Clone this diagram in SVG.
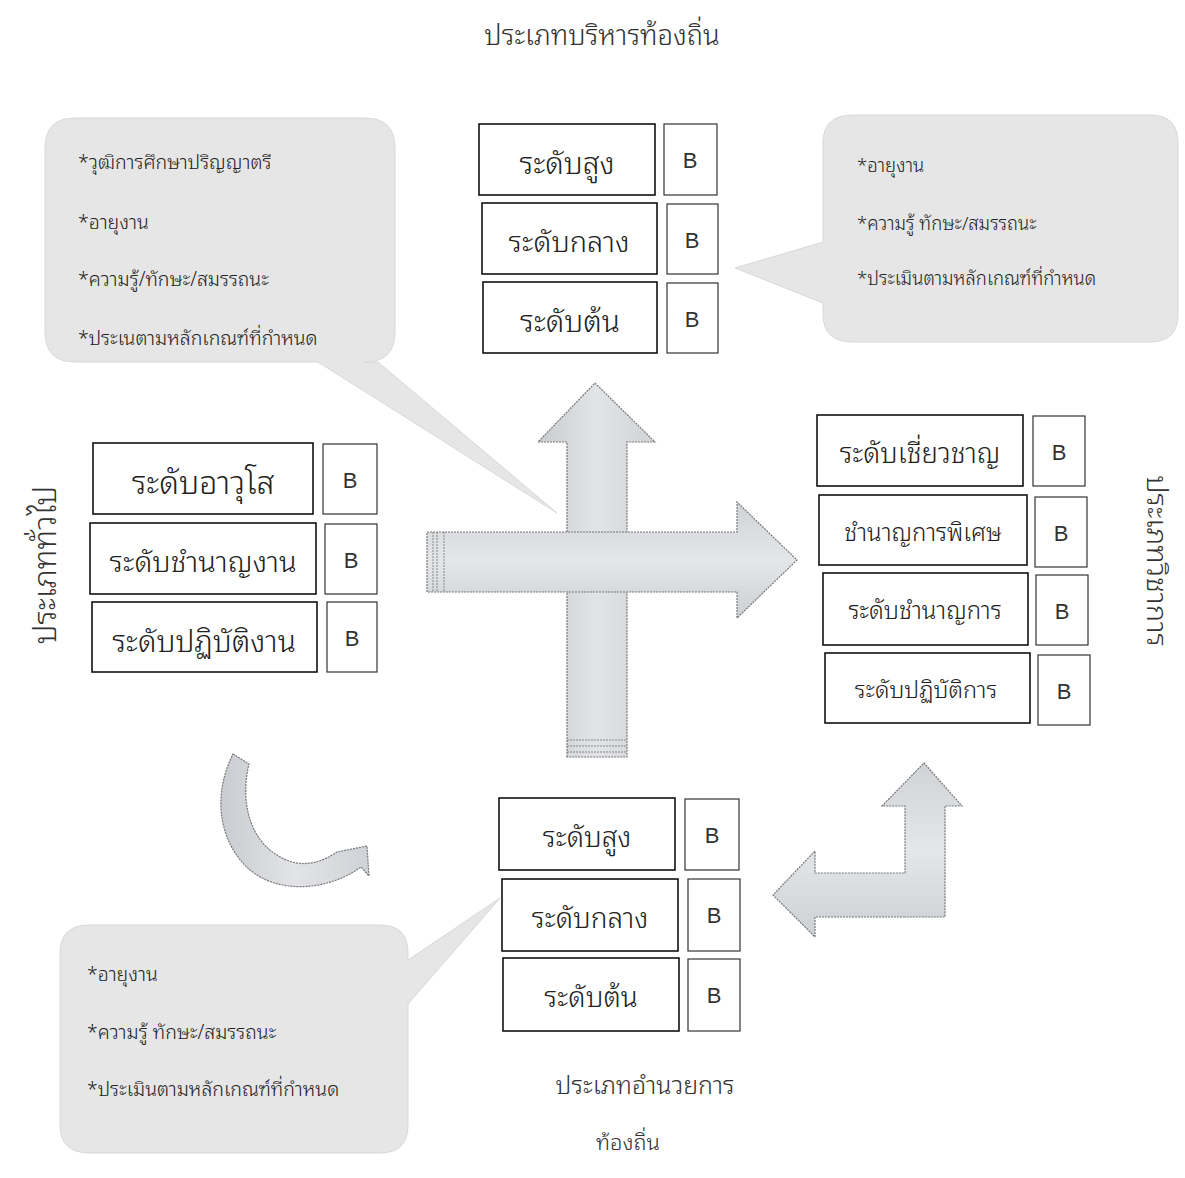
<svg xmlns="http://www.w3.org/2000/svg" width="1185" height="1178" viewBox="0 0 1185 1178">
<style>
.th{font-family:"Noto Sans Thai Looped","Noto Sans Thai","Noto Sans","Liberation Sans",sans-serif;fill:#222;font-weight:300}
.lbl{font-size:30px;text-anchor:middle;dominant-baseline:central}
.b{font-family:"Liberation Sans",Arial,sans-serif;font-size:22px;fill:#333;text-anchor:middle;dominant-baseline:central}
.ttl{font-size:27.5px;text-anchor:middle;dominant-baseline:central;fill:#333}
.note{font-size:19.5px;dominant-baseline:central}
.box{fill:#fff;stroke:#111;stroke-width:1.6}
.bbox{fill:#fff;stroke:#333;stroke-width:1.2}
.call{fill:#e6e6e6;stroke:#d8d8d8;stroke-width:1}
.arr{fill:url(#g1);stroke:#777;stroke-width:1.2;stroke-dasharray:2 1}
.arr2{fill:url(#g2);stroke:#777;stroke-width:1.2;stroke-dasharray:2 1}
</style>
<defs>
<linearGradient id="g1" x1="0" y1="0" x2="1" y2="0">
<stop offset="0" stop-color="#c9ccd0"/><stop offset="0.5" stop-color="#e2e4e7"/><stop offset="1" stop-color="#cfd2d6"/>
</linearGradient>
<linearGradient id="g2" x1="0" y1="0" x2="0" y2="1">
<stop offset="0" stop-color="#d0d3d7"/><stop offset="0.5" stop-color="#e4e6e8"/><stop offset="1" stop-color="#cdd0d4"/>
</linearGradient>
</defs>
<rect width="1185" height="1178" fill="#fff"/>

<!-- titles -->
<g id="title-top"><text class="th ttl" x="602" y="33">ประเภทบริหารท้องถิ่น</text></g>
<g id="title-bottom"><text class="th ttl" x="645" y="1083" style="font-size:25px">ประเภทอำนวยการ</text><text class="th ttl" x="628" y="1140" style="font-size:22px">ท้องถิ่น</text></g>
<g id="title-left"><text class="th ttl" transform="translate(42,565) rotate(-90)" style="font-size:31px">ประเภททั่วไป</text></g>
<g id="title-right"><text class="th ttl" transform="translate(1160,561) rotate(90)" style="font-size:29px">ประเภทวิชาการ</text></g>

<!-- callouts -->
<g id="callout-topleft">
<path class="call" d="M75,118 H365 Q395,118 395,148 V332 Q395,362 365,362 H378 L557,513 L318,362 H75 Q45,362 45,332 V148 Q45,118 75,118 Z"/>
<text class="th note" x="78" y="160">*วุฒิการศึกษาปริญญาตรี</text>
<text class="th note" x="78" y="220">*อายุงาน</text>
<text class="th note" x="78" y="277">*ความรู้/ทักษะ/สมรรถนะ</text>
<text class="th note" x="78" y="336">*ประเนตามหลักเกณฑ์ที่กำหนด</text>
</g>
<g id="callout-topright">
<path class="call" d="M853,115 H1150 Q1178,115 1178,143 V314 Q1178,342 1150,342 H853 Q823,342 823,314 V303 L735,268 L823,242 V143 Q823,115 853,115 Z"/>
<text class="th note" x="857" y="163" style="font-size:18.5px">*อายุงาน</text>
<text class="th note" x="857" y="221" style="font-size:18.5px">*ความรู้ ทักษะ/สมรรถนะ</text>
<text class="th note" x="857" y="276" style="font-size:18.5px">*ประเมินตามหลักเกณฑ์ที่กำหนด</text>
</g>
<g id="callout-bottomleft">
<path class="call" d="M90,925 H380 Q408,925 408,953 V960 L500,898 L408,1004 V1125 Q408,1153 380,1153 H90 Q60,1153 60,1125 V953 Q60,925 90,925 Z"/>
<text class="th note" x="87" y="972">*อายุงาน</text>
<text class="th note" x="87" y="1030">*ความรู้ ทักษะ/สมรรถนะ</text>
<text class="th note" x="87" y="1087">*ประเมินตามหลักเกณฑ์ที่กำหนด</text>
</g>

<!-- connectors (arrows) -->
<g id="connectors">
<path class="arr" d="M567,757 V442 H538 L595,383 L655,442 H627 V757 Z"/>
<g stroke="#888" stroke-width="1" stroke-dasharray="2 1"><line x1="567" y1="740" x2="627" y2="740"/><line x1="567" y1="746" x2="627" y2="746"/><line x1="567" y1="752" x2="627" y2="752"/></g>
<path class="arr2" d="M427,532 H737 V502 L797,560 L737,618 V592 H427 Z"/>
<g stroke="#888" stroke-width="1" stroke-dasharray="2 1"><line x1="433" y1="532" x2="433" y2="592"/><line x1="437" y1="532" x2="437" y2="592"/><line x1="444" y1="532" x2="444" y2="592"/></g>
<path class="arr" d="M233,754 L249,764 C240,800 248,848 292,862 C308,866 322,862 337,852 L367,846 L369,876 L361,867 C330,890 280,895 250,870 C222,846 210,800 233,754 Z"/>
<path class="arr2" d="M905,917 H815 V937 L773,895 L815,851 V873 H905 V806 H882 L924,763 L962,806 H945 V917 Z"/>
</g>

<!-- top group -->
<g id="top-high"><rect class="box" x="479" y="124" width="176" height="71"/><text class="th lbl" x="567" y="160">ระดับสูง</text></g>
<g id="top-high-b"><rect class="bbox" x="664" y="124" width="53" height="71"/><text class="b" x="690" y="160">B</text></g>
<g id="top-mid"><rect class="box" x="482" y="203" width="175" height="71"/><text class="th lbl" x="569" y="239" style="font-size:29px">ระดับกลาง</text></g>
<g id="top-mid-b"><rect class="bbox" x="667" y="204" width="51" height="70"/><text class="b" x="692" y="240">B</text></g>
<g id="top-low"><rect class="box" x="483" y="282" width="174" height="71"/><text class="th lbl" x="570" y="318">ระดับต้น</text></g>
<g id="top-low-b"><rect class="bbox" x="667" y="283" width="51" height="70"/><text class="b" x="692" y="319">B</text></g>

<!-- left group -->
<g id="left-1"><rect class="box" x="93" y="443" width="220" height="71"/><text class="th lbl" x="203" y="479" style="font-size:32px">ระดับอาวุโส</text></g>
<g id="left-1-b"><rect class="bbox" x="323" y="444" width="54" height="70"/><text class="b" x="350" y="480">B</text></g>
<g id="left-2"><rect class="box" x="90" y="523" width="226" height="71"/><text class="th lbl" x="203" y="559" style="font-size:29px">ระดับชำนาญงาน</text></g>
<g id="left-2-b"><rect class="bbox" x="325" y="524" width="52" height="70"/><text class="b" x="351" y="560">B</text></g>
<g id="left-3"><rect class="box" x="92" y="602" width="225" height="70"/><text class="th lbl" x="204" y="638">ระดับปฏิบัติงาน</text></g>
<g id="left-3-b"><rect class="bbox" x="327" y="602" width="50" height="70"/><text class="b" x="352" y="638">B</text></g>

<!-- right group -->
<g id="right-1"><rect class="box" x="817" y="415" width="206" height="71"/><text class="th lbl" x="920" y="451" style="font-size:27.5px">ระดับเชี่ยวชาญ</text></g>
<g id="right-1-b"><rect class="bbox" x="1033" y="416" width="52" height="70"/><text class="b" x="1059" y="452">B</text></g>
<g id="right-2"><rect class="box" x="819" y="495" width="208" height="70"/><text class="th lbl" x="923" y="530" style="font-size:24px">ชำนาญการพิเศษ</text></g>
<g id="right-2-b"><rect class="bbox" x="1035" y="497" width="52" height="70"/><text class="b" x="1061" y="533">B</text></g>
<g id="right-3"><rect class="box" x="823" y="573" width="205" height="72"/><text class="th lbl" x="925" y="608" style="font-size:24px">ระดับชำนาญการ</text></g>
<g id="right-3-b"><rect class="bbox" x="1036" y="575" width="52" height="70"/><text class="b" x="1062" y="611">B</text></g>
<g id="right-4"><rect class="box" x="825" y="653" width="205" height="70"/><text class="th lbl" x="926" y="687" style="font-size:23.5px">ระดับปฏิบัติการ</text></g>
<g id="right-4-b"><rect class="bbox" x="1038" y="655" width="52" height="70"/><text class="b" x="1064" y="691">B</text></g>

<!-- bottom group -->
<g id="bot-high"><rect class="box" x="499" y="798" width="176" height="72"/><text class="th lbl" x="587" y="834" style="font-size:28px">ระดับสูง</text></g>
<g id="bot-high-b"><rect class="bbox" x="685" y="799" width="54" height="71"/><text class="b" x="712" y="835">B</text></g>
<g id="bot-mid"><rect class="box" x="502" y="879" width="176" height="72"/><text class="th lbl" x="590" y="915" style="font-size:28px">ระดับกลาง</text></g>
<g id="bot-mid-b"><rect class="bbox" x="688" y="879" width="52" height="72"/><text class="b" x="714" y="915">B</text></g>
<g id="bot-low"><rect class="box" x="503" y="958" width="176" height="73"/><text class="th lbl" x="591" y="994" style="font-size:28px">ระดับต้น</text></g>
<g id="bot-low-b"><rect class="bbox" x="688" y="959" width="52" height="72"/><text class="b" x="714" y="995">B</text></g>
</svg>
